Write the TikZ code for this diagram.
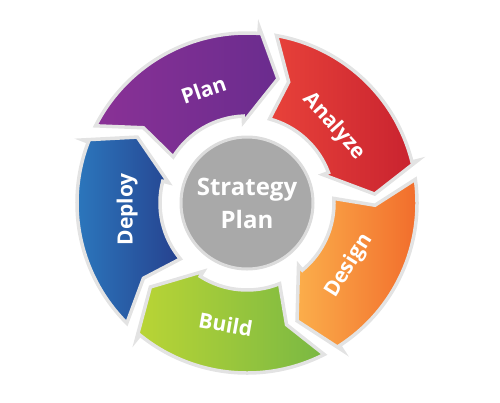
\documentclass[tikz,border=0pt]{standalone}
\usepackage{fontspec}
\setmainfont{Open Sans}
\usetikzlibrary{positioning}

\definecolor{rimgray}{HTML}{E3E3E3}
\definecolor{hubgray}{HTML}{A9A9A9}
\definecolor{hubrim}{HTML}{DCDCDC}
\definecolor{planL}{HTML}{8A3196}
\definecolor{planR}{HTML}{6A2C8E}
\definecolor{analyzeL}{HTML}{E8423A}
\definecolor{analyzeR}{HTML}{C8222F}
\definecolor{designL}{HTML}{FBAE4B}
\definecolor{designR}{HTML}{F1692A}
\definecolor{buildL}{HTML}{BAD535}
\definecolor{buildR}{HTML}{79B843}
\definecolor{deployL}{HTML}{2C7DC2}
\definecolor{deployR}{HTML}{26418E}

\begin{document}
\begin{tikzpicture}[x=1pt,y=1pt,
  cycle arrow/.style={draw=rimgray,line width=3.5pt,line join=miter},
  phase label/.style={text=white,font=\bfseries\fontsize{21}{21}\selectfont},
  hub/.style={circle,fill=hubgray,draw=hubrim,line width=3pt,minimum size=132pt,
    text=white,align=center,font=\bfseries\fontsize{24}{33}\selectfont}]

  \useasboundingbox (0,0) rectangle (500,-402);

  \begin{scope}[shift={(247,-203)}]
  % five arrows, clockwise
  \path[cycle arrow,left color=planL,right color=planR]
    (153:170) arc[start angle=153,end angle=86,radius=170pt] -- (86:176) -- (76:128)
    -- (92.5:81) -- (92.5:87) arc[start angle=92.5,end angle=148,radius=87pt] -- (144:128) -- cycle;
  \path[cycle arrow,left color=analyzeL,right color=analyzeR]
    (80:170) arc[start angle=80,end angle=14,radius=170pt] -- (14:176) -- (4:128)
    -- (20.5:81) -- (20.5:87) arc[start angle=20.5,end angle=75,radius=87pt] -- (71:128) -- cycle;
  \path[cycle arrow,left color=designL,right color=designR]
    (8:170) arc[start angle=8,end angle=-57,radius=170pt] -- (-57:176) -- (-67:128)
    -- (-50.5:81) -- (-50.5:87) arc[start angle=-50.5,end angle=3,radius=87pt] -- (-1:128) -- cycle;
  \path[cycle arrow,left color=buildL,right color=buildR]
    (-63:170) arc[start angle=-63,end angle=-129,radius=170pt] -- (-129:176) -- (-139:128)
    -- (-122.5:81) -- (-122.5:87) arc[start angle=-122.5,end angle=-68,radius=87pt] -- (-72:128) -- cycle;
  \path[cycle arrow,left color=deployL,right color=deployR]
    (-135:170) arc[start angle=-135,end angle=-201,radius=170pt] -- (-201:176) -- (-211:128)
    -- (-194.5:81) -- (-194.5:87) arc[start angle=-194.5,end angle=-140,radius=87pt] -- (-144:128) -- cycle;

  \node[hub] (hub) at (0,0) {Strategy\\Plan};

  \node[phase label,rotate=19]  (plan)    at (111:121)  {Plan};
  \node[phase label,rotate=-48] (analyze) at (41.5:116) {Analyze};
  \node[phase label,rotate=58]  (design)  at (-31.7:120) {Design};
  \node[phase label,rotate=-10] (build)   at (-100:123) {Build};
  \node[phase label,rotate=90]  (deploy)  at (183:120)  {Deploy};
  \end{scope}
\end{tikzpicture}
\end{document}
